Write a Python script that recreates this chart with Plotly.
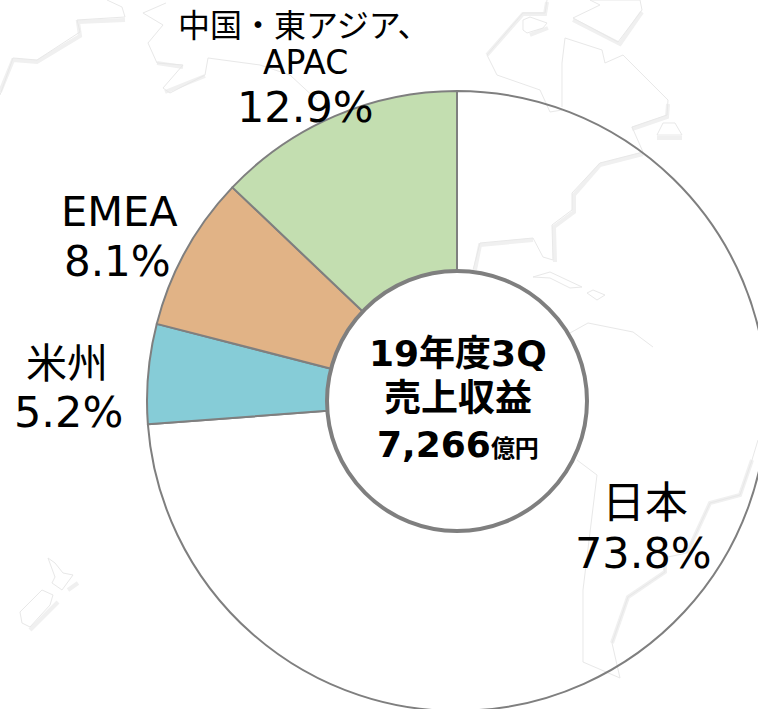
import plotly.graph_objects as go

regions = ["日本", "米州", "EMEA", "中国・東アジア、<br>APAC"]
shares = [73.8, 5.2, 8.1, 12.9]
slice_colors = ["rgba(255,255,255,0)", "#86CCD7", "#E1B386", "#C3DEB0"]
center_title = "19年度3Q"
center_sub = "売上収益"
center_value = "7,266"
center_unit = "億円"

W, H = 770, 712
CX, CY, R, HOLE_R = 457, 401, 310, 130
FONT = "'DejaVu Sans','Noto Sans CJK JP',sans-serif"

# Faint decorative world-map background, in pixels
map_lines = [
    [(0,95),(13,58),(37,60),(80,32),(77,20),(125,17),(122,7),(107,0)],
    [(166,3),(143,13),(163,25),(148,43),(157,63),(183,65),(163,88),(170,93),(205,75),(208,58),(260,65),(290,75),(317,100)],
    [(547,0),(545,13),(523,13),(487,55),(497,75),(540,90),(550,112),(562,110)],
    [(523,20),(530,17),(547,23),(543,28),(527,33),(523,30),(523,20)],
    [(562,107),(562,63),(565,38),(602,50),(605,63),(623,55),(668,100),(667,115),(632,127),(643,152),(600,163),(572,193),(572,210),(552,225),(553,260),(543,257),(533,238),(480,243),(473,270)],
    [(573,18),(600,5),(590,0),(640,0),(642,10),(618,42),(573,18)],
    [(657,135),(663,123),(675,123),(682,135),(657,135)],
    [(533,277),(550,272),(582,287),(570,288),(550,278),(533,277)],
    [(587,293),(593,290),(605,295),(597,300),(587,293)],
    [(570,333),(588,323),(633,332),(653,347)],
    [(577,460),(597,475),(583,590),(583,662),(620,678),(612,643),(628,597),(665,572),(663,558),(687,553),(710,503),(740,495),(752,460),(758,440)],
    [(48,558),(55,577),(52,583),(62,590),(73,575),(63,573),(55,563),(48,558)],
    [(20,612),(42,590),(53,595),(50,605),(30,627),(22,623),(20,612)],
]
map_shadows = [
    [(0,92),(13,60),(37,62),(80,36),(78,22),(125,20)],
    [(165,92),(205,76)],
    [(157,63),(183,67)],
    [(547,2),(545,14),(523,14),(487,55)],
    [(530,35),(548,28)],
    [(642,12),(620,44),(573,20)],
    [(668,104),(667,117),(632,129)],
    [(643,154),(600,165),(574,195),(574,212),(554,227),(555,262)],
    [(533,240),(480,245),(475,270)],
    [(657,138),(682,138)],
    [(612,643),(628,597),(665,572),(665,560)],
    [(687,553),(710,503),(740,495),(752,460)],
    [(68,590),(78,583)],
    [(30,630),(58,602)],
]

def px(x): return x / W
def py(y): return 1 - y / H

def path(pts):
    return "M " + " L ".join(f"{px(x):.5f},{py(y):.5f}" for x, y in pts)

shapes = []
for pts in map_shadows:
    shapes.append(dict(type="path", path=path(pts), xref="paper", yref="paper", layer="below",
                       line=dict(color="#F0F0F0", width=4)))
for pts in map_lines:
    shapes.append(dict(type="path", path=path(pts), xref="paper", yref="paper", layer="below",
                       line=dict(color="#E8E8E8", width=1)))
shapes.append(dict(type="circle", xref="paper", yref="paper", layer="above",
                   x0=px(CX-HOLE_R), x1=px(CX+HOLE_R), y0=py(CY+HOLE_R), y1=py(CY-HOLE_R),
                   fillcolor="white", line=dict(color="#7F7F7F", width=4)))

fig = go.Figure(go.Pie(
    labels=regions, values=shares, sort=False, direction="clockwise", rotation=0,
    hole=HOLE_R / R, textinfo="none", showlegend=False,
    marker=dict(colors=slice_colors, line=dict(color="#7F7F7F", width=2)),
    domain=dict(x=[px(CX-R), px(CX+R)], y=[py(CY+R), py(CY-R)]),
))

def note(text, x, y, size, bold=False):
    t = f"<b>{text}</b>" if bold else text
    return dict(text=t, x=px(x), y=py(y), xref="paper", yref="paper", showarrow=False,
                xanchor="center", yanchor="middle", font=dict(family=FONT, size=size, color="black"))

cn1, cn2 = regions[3].split("<br>")
annotations = [
    note(cn1, 304, 26, 32),
    note(cn2, 305, 63, 33),
    note(f"{shares[3]}%", 305, 107, 43),
    note(regions[2], 119, 211, 41.5),
    note(f"{shares[2]}%", 117, 262, 42),
    note(regions[1], 67, 364, 41),
    note(f"{shares[1]}%", 68, 412, 43),
    note(regions[0], 645, 503, 43),
    note(f"{shares[0]}%", 643, 553, 43),
    note(center_title, 458, 353, 36, True),
    note(center_sub, 458, 398, 37, True),
    note(f"{center_value}<span style='font-size:24px'>{center_unit}</span>", 458, 444, 36, True),
]

fig.update_layout(width=W, height=H, margin=dict(l=0, r=0, t=0, b=0),
                  paper_bgcolor="rgba(0,0,0,0)", plot_bgcolor="rgba(0,0,0,0)",
                  font=dict(family=FONT), shapes=shapes, annotations=annotations)

fig.write_html("out.html", config=dict(displayModeBar=False), post_script=
    "document.body.style.margin='0';document.body.style.background='white';"
    "document.documentElement.style.overflow='hidden';document.body.style.overflow='hidden';")
